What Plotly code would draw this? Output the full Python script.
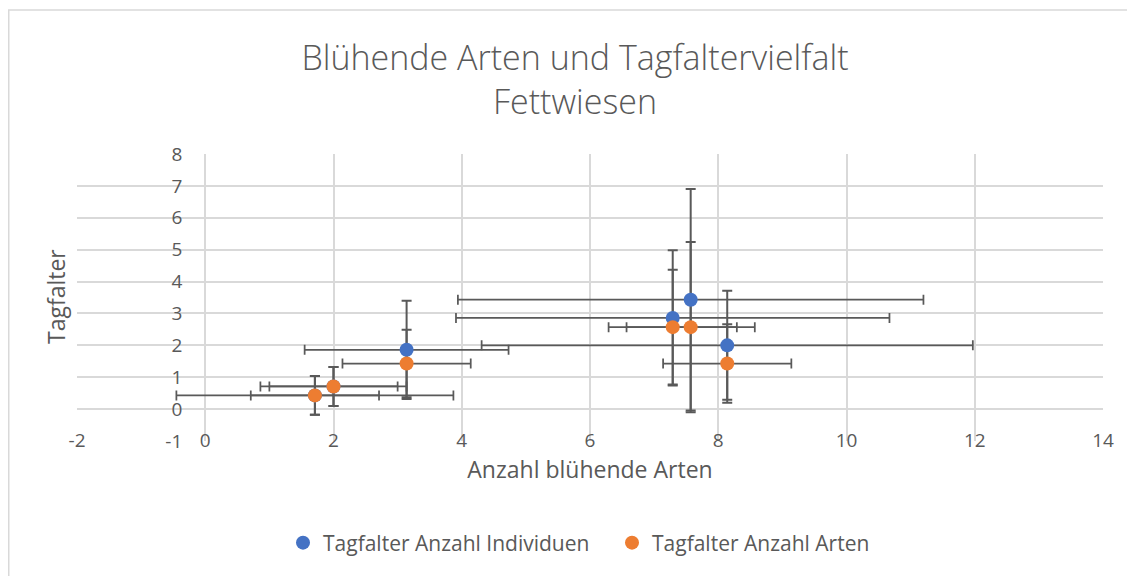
import plotly.graph_objects as go

# Data
bluehende_arten = [1.71, 2.0, 3.14, 7.29, 7.57, 8.14]
ind_y = [0.43, 0.71, 1.86, 2.86, 3.43, 2.0]
ind_err_x = [2.16, 1.14, 1.59, 3.38, 3.63, 3.83]
ind_err_y = [0.61, 0.61, 1.54, 2.12, 3.47, 1.71]

arten_y = [0.43, 0.71, 1.43, 2.57, 2.57, 1.43]
arten_err_x = [1.0, 1.0, 1.0, 1.0, 1.0, 1.0]
arten_err_y = [0.61, 0.61, 1.06, 1.8, 2.67, 1.23]

x_ticks = [-2, 0, 2, 4, 6, 8, 10, 12, 14]
x_tick_text = ["-2", "0", "2", "4", "6", "8", "10", "12", "14"]
y_ticks = [-1, 0, 1, 2, 3, 4, 5, 6, 7, 8]
y_tick_text = ["-1", "0", "1", "2", "3", "4", "5", "6", "7", "8"]

series_names = ["Tagfalter Anzahl Individuen", "Tagfalter Anzahl Arten"]
colors = ["#4472C4", "#ED7D31"]

W, H = 1135, 576
OFF = 8  # page body margin
PL, PR, PT, PB = 77 - OFF, 1103 - OFF, 154 - OFF, 441 - OFF  # plot area in figure px
L, R, T, B = PL, W - PR, PT, H - PB
PW, PH = PR - PL, PB - PT
FONT = "Open Sans"
GREY = "#595959"
ERR = "#595959"


def px_x(p):
    return (p - OFF - PL) / PW


def px_y(p):
    return (PB - (p - OFF)) / PH


fig = go.Figure()

series = [
    (ind_y, ind_err_x, ind_err_y),
    (arten_y, arten_err_x, arten_err_y),
]

# error bars first (behind all markers)
for (ys, ex, ey), c in zip(series, colors):
    fig.add_trace(go.Scatter(
        x=bluehende_arten, y=ys, mode="markers",
        marker=dict(size=1, color="rgba(0,0,0,0)"),
        error_x=dict(type="data", array=ex, visible=True, color=ERR, thickness=1.75, width=5),
        error_y=dict(type="data", array=ey, visible=True, color=ERR, thickness=2, width=5),
        showlegend=False, hoverinfo="skip",
    ))

for (ys, ex, ey), c, n in zip(series, colors, series_names):
    fig.add_trace(go.Scatter(
        x=bluehende_arten, y=ys, mode="markers", name=n,
        marker=dict(size=14, color=c),
    ))

fig.update_layout(
    width=W, height=H,
    margin=dict(l=L, r=R, t=T, b=B),
    paper_bgcolor="white", plot_bgcolor="white",
    font=dict(family=FONT, color=GREY, size=19),
    title=dict(
        text="Blühende Arten und Tagfaltervielfalt<br>Fettwiesen",
        x=(575 - OFF) / W, xanchor="center", y=1 - 62 / H, yanchor="top",
        font=dict(family=FONT, size=34, color=GREY, weight=300),
    ),
    xaxis=dict(
        range=[-2, 14], tickvals=x_ticks, ticktext=x_tick_text,
        showgrid=True, gridcolor="#D9D9D9", gridwidth=1.5, zeroline=False,
        showline=False, ticks="", ticklabelstandoff=-14,
        tickfont=dict(size=19, color=GREY),
        title=dict(text="Anzahl blühende Arten", font=dict(size=23, color=GREY), standoff=0),
    ),
    yaxis=dict(
        range=[-1, 8], tickvals=y_ticks, ticktext=y_tick_text,
        showgrid=True, gridcolor="#D9D9D9", gridwidth=1.5, zeroline=False,
        showline=False, ticks="", anchor="free", position=2 / 16,
        ticklabelstandoff=23,
        tickfont=dict(size=19, color=GREY),
    ),
    legend=dict(
        orientation="h", x=px_x(283), xanchor="left",
        y=px_y(543), yanchor="middle",
        font=dict(size=21, color=GREY), itemwidth=30,
        entrywidth=284, entrywidthmode="pixels",
    ),
    showlegend=True,
)

# y axis title
fig.add_annotation(
    text="Tagfalter", xref="paper", yref="paper",
    x=px_x(56), y=px_y(297),
    textangle=-90, showarrow=False, font=dict(size=23, color=GREY, family=FONT),
    xanchor="center", yanchor="middle",
)

# chart border
fig.add_shape(
    type="rect", xref="paper", yref="paper",
    x0=(0.75 - PL) / PW, x1=(W + 10 - PL) / PW,
    y0=(PB - (H + 10)) / PH, y1=(PB - 2) / PH,
    line=dict(color="#D9D9D9", width=1.5), layer="below",
)

fig.write_html("out.html")
